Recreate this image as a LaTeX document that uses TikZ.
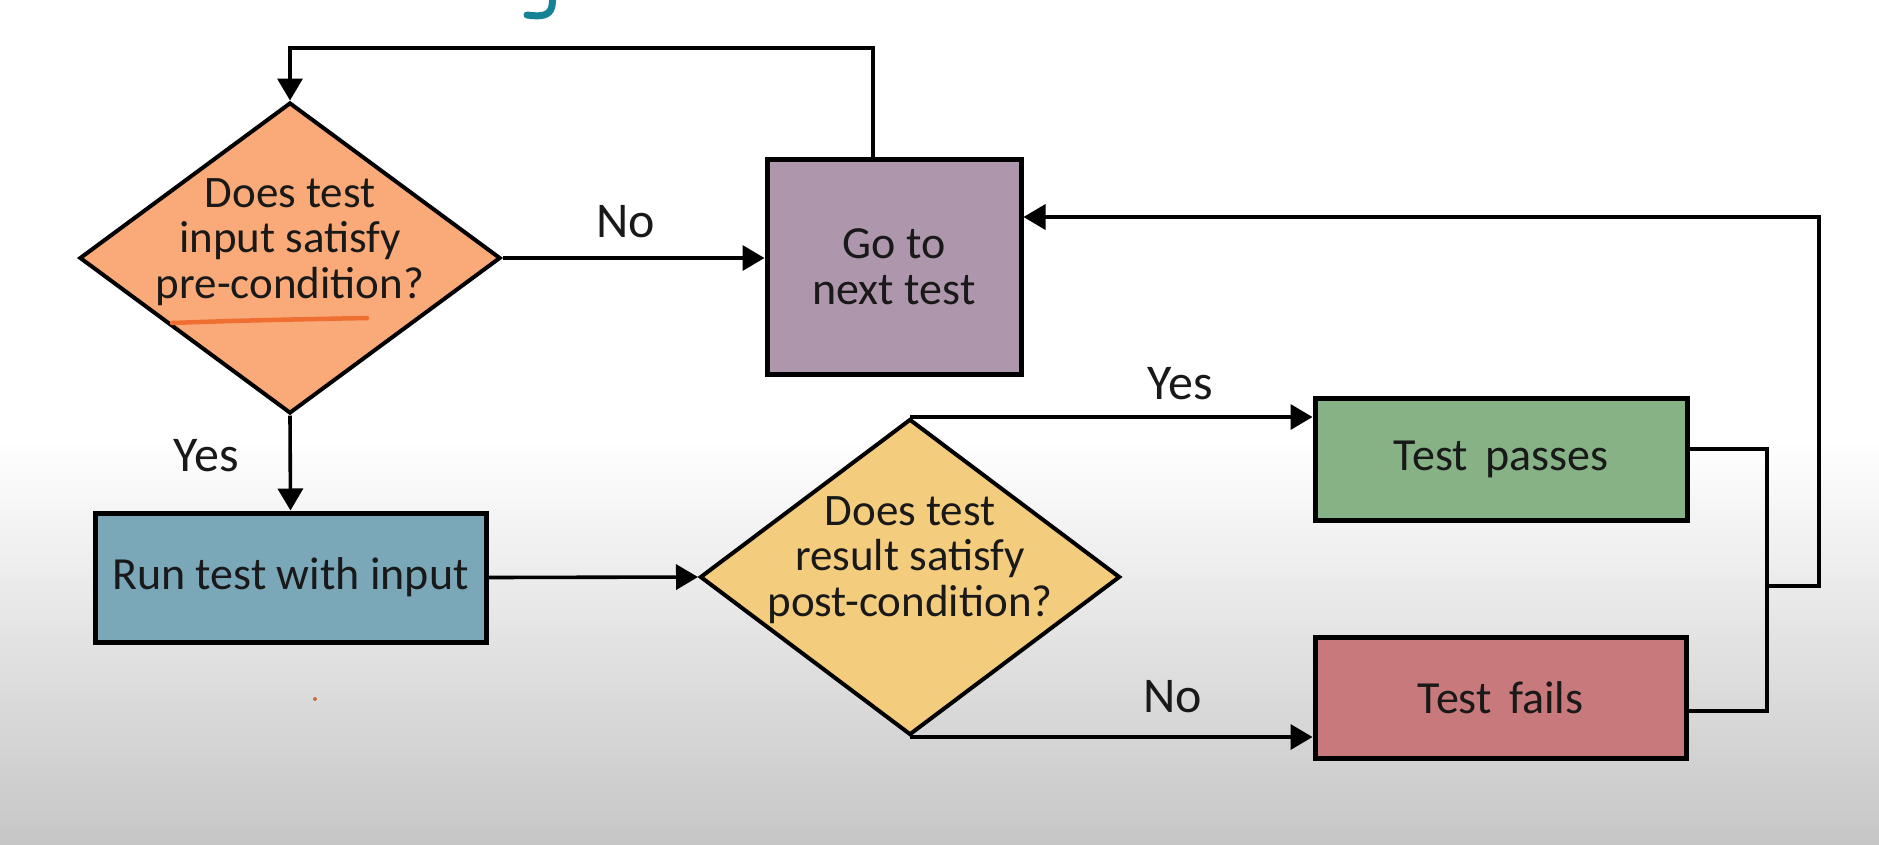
\documentclass[tikz,border=0pt]{standalone}
\usepackage{fontspec}
\setmainfont{Carlito}
\usetikzlibrary{arrows.meta,shapes.geometric}
\definecolor{corange}{RGB}{250,170,120}
\definecolor{cpurple}{RGB}{174,151,173}
\definecolor{cblue}{RGB}{123,168,184}
\definecolor{cyellow}{RGB}{243,205,125}
\definecolor{cgreen}{RGB}{134,178,134}
\definecolor{cred}{RGB}{200,121,124}
\definecolor{cline}{RGB}{240,110,50}
\definecolor{bggray}{RGB}{198,198,198}
\definecolor{cteal}{RGB}{22,130,150}
\definecolor{ctext}{RGB}{25,25,25}
\definecolor{cdot}{RGB}{200,110,60}
\tikzset{
  boxnode/.style={draw=black, line width=5pt, inner sep=0pt, align=center, text=ctext, font=\fontsize{46}{46}\selectfont},
  dianode/.style={draw=black, diamond, line width=4pt, inner sep=0pt},
  diatext/.style={align=center, text=ctext, inner sep=0pt, font=\fontsize{45}{45.5}\selectfont},
  lbl/.style={text=ctext, inner sep=0pt, font=\fontsize{50}{55}\selectfont},
  conn/.style={draw=black, line width=3.6pt},
  arr/.style={conn, -{Triangle[length=22pt,width=25pt]}}
}
\begin{document}
\begin{tikzpicture}[x=1pt,y=-1pt]
\useasboundingbox (0,0) rectangle (1879,844);
\fill[white] (0,0) rectangle (1879,441);
\shade[top color=white,bottom color=bggray] (0,440) rectangle (1879,844);

% cut-off title letter
\draw[cteal, line width=7pt, line cap=round] (553,-4) -- (552,6) .. controls (550,16) and (541,17) .. (527,15);

% nodes
\node[dianode, fill=corange, minimum width=421pt, minimum height=311pt] (A) at (290,258) {};
\node[diatext] (At) at ([yshift=16pt]A.center) {Does test\\input satisfy\\pre-condition?};
\node[boxnode, fill=cpurple, minimum width=254pt, minimum height=215pt] (go) at (894,266.5) {Go to\\next test};
\node[boxnode, fill=cblue, minimum width=391pt, minimum height=129pt] (run) at (290.5,577.5) {Run test with input};
\node[dianode, fill=cyellow, minimum width=420pt, minimum height=316pt] (B) at (910,577) {};
\node[diatext] (Bt) at ([yshift=17pt]B.center) {Does test\\result satisfy\\post-condition?};
\node[boxnode, fill=cgreen, minimum width=372pt, minimum height=122pt] (pass) at (1501,459) {Test\hspace{0.15em} passes};
\node[boxnode, fill=cred, minimum width=371pt, minimum height=121pt] (fail) at (1500.5,697.5) {Test\hspace{0.15em} fails};

% underline
\draw[cline, line width=4.5pt, line cap=round] (172,323) .. controls (250,320) and (320,319) .. (367,318);

% labels
\node[lbl] (no1) at (626,222) {No};
\node[lbl] (yes1) at (206,456) {Yes};
\node[lbl] (yes2) at (1180,384) {Yes};
\node[lbl] (no2) at (1173,697) {No};

% coordinates
\coordinate (toprow) at (0,48);
\coordinate (j) at (1767,586);
\coordinate (rr) at (1819,586);

% connectors
\draw[arr] ([xshift=-21pt]go.north) -- ([xshift=-21pt]go.north |- toprow) -| (A.north);
\draw[arr] (A.east) -- (A.east -| go.west);
\draw[arr] (A.south) -- (run.north);
\draw[arr] (run.east) -- (B.west);
\draw[arr] (B.north) -- (B.north -| pass.west);
\draw[arr] (B.south) -- (B.south -| fail.west);
\draw[conn] ([yshift=10pt]pass.east) -| (j);
\draw[conn] ([yshift=-13.5pt]fail.east) -| (j);
\draw[arr] (j) -- (rr) |- ([yshift=49.5pt]go.east);

% stray dot
\fill[cdot] (315,699) circle (2pt);
\end{tikzpicture}
\end{document}
